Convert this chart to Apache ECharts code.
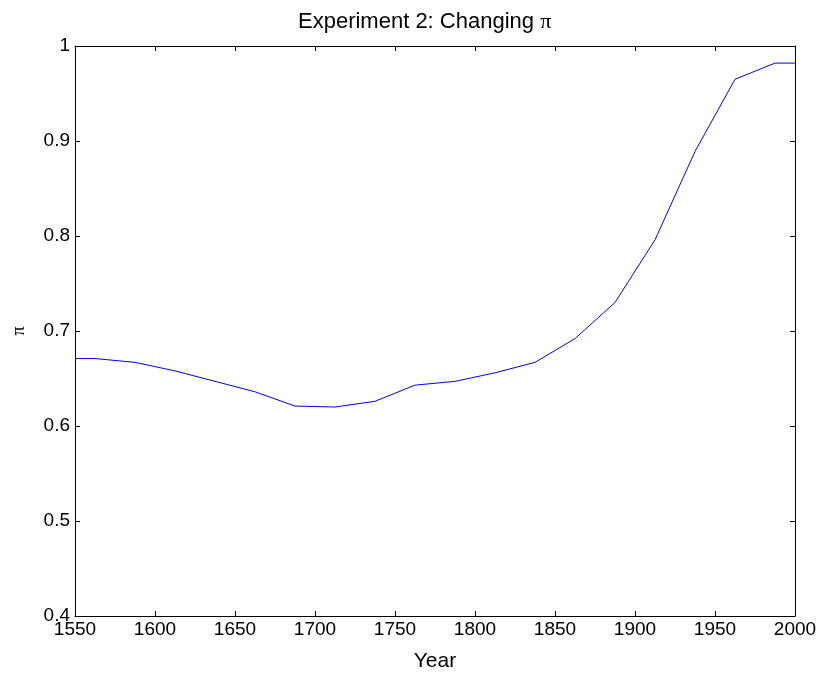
<!DOCTYPE html>
<html>
<head>
<meta charset="utf-8">
<style>
  html, body { margin: 0; padding: 0; background: #fff; }
  #chart { width: 820px; height: 677px; }
</style>
<script src="https://cdn.jsdelivr.net/npm/echarts@6/dist/echarts.min.js"></script>
</head>
<body>
<div id="chart"></div>
<script>
// Year samples and the estimated pi at each one
const years = [1550, 1562.5, 1587.5, 1612.5, 1637.5, 1662.5, 1687.5, 1712.5, 1737.5,
  1762.5, 1787.5, 1812.5, 1837.5, 1862.5, 1887.5, 1912.5, 1937.5, 1962.5, 1987.5, 2000];
const piValues = [0.671, 0.671, 0.667, 0.658, 0.647, 0.636, 0.621, 0.620, 0.626,
  0.643, 0.647, 0.656, 0.667, 0.692, 0.730, 0.796, 0.889, 0.965, 0.982, 0.982];
const xTicks = [1550, 1600, 1650, 1700, 1750, 1800, 1850, 1900, 1950, 2000];
const yTicks = [0.4, 0.5, 0.6, 0.7, 0.8, 0.9, 1];

const font = 'Liberation Sans, Arial, sans-serif';
const serif = 'Liberation Serif, DejaVu Serif, serif';
const axisLine = { show: true, onZero: false, lineStyle: { color: '#000', width: 1 } };
const axisTickIn = { show: true, inside: true, length: 5, lineStyle: { color: '#000', width: 1 } };

const chart = echarts.init(document.getElementById('chart'), null, { renderer: 'canvas' });
chart.setOption({
  animation: false,
  backgroundColor: '#fff',
  title: {
    text: 'Experiment 2: Changing {p|π}',
    left: 293, top: 6,
    textStyle: {
      fontFamily: font, fontSize: 22, fontWeight: 'normal', color: '#000',
      rich: { p: { fontFamily: serif, fontSize: 22, color: '#000' } }
    }
  },
  grid: { left: 75, right: 25, top: 46, bottom: 61 },
  xAxis: [{
    type: 'value', min: xTicks[0], max: xTicks[xTicks.length - 1], interval: 50,
    name: 'Year', nameLocation: 'middle', nameGap: 35,
    nameTextStyle: { fontFamily: font, fontSize: 21, color: '#000' },
    axisLine, axisTick: axisTickIn, splitLine: { show: false },
    axisLabel: { fontFamily: font, fontSize: 19, color: '#000', margin: 4, formatter: v => String(v) }
  }, {
    type: 'value', position: 'top', min: xTicks[0], max: xTicks[xTicks.length - 1], interval: 50,
    axisLine, axisTick: axisTickIn, splitLine: { show: false }, axisLabel: { show: false }
  }],
  yAxis: [{
    type: 'value', min: yTicks[0], max: yTicks[yTicks.length - 1], interval: 0.1,
    name: 'π', nameLocation: 'middle', nameGap: 47, nameRotate: 90,
    nameTextStyle: { fontFamily: serif, fontSize: 18, color: '#000' },
    axisLine, axisTick: axisTickIn, splitLine: { show: false },
    axisLabel: {
      fontFamily: font, fontSize: 19, color: '#000', margin: 5,
      formatter: v => (Math.abs(v - 1) < 1e-9 ? '1' : v.toFixed(1))
    }
  }, {
    type: 'value', position: 'right', min: yTicks[0], max: yTicks[yTicks.length - 1], interval: 0.1,
    axisLine, axisTick: axisTickIn, splitLine: { show: false }, axisLabel: { show: false }
  }],
  series: [{
    type: 'line',
    data: years.map((y, i) => [y, piValues[i]]),
    showSymbol: false,
    lineStyle: { color: '#0000ff', width: 1 },
    itemStyle: { color: '#0000ff' }
  }]
});
</script>
</body>
</html>
